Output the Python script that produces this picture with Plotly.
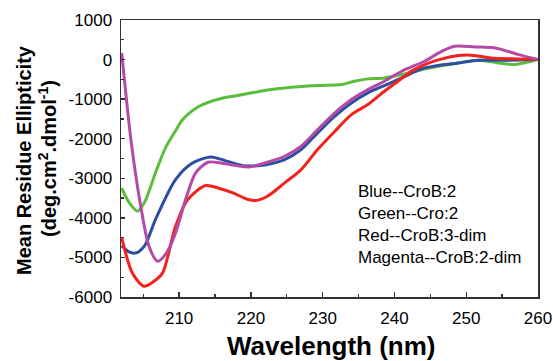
import plotly.graph_objects as go

# ---- data ----
green_x = [202.0, 203.0, 204.2, 205.2, 206.7, 208.1, 209.5, 210.5, 212.8, 216.1, 218.9, 222.1, 224.7,
           229.3, 232.6, 234.4, 236.3, 238.6, 241.0, 244.2, 248.9, 251.7, 254.5, 256.8, 260.0]
green_y = [-3250, -3600, -3830, -3600, -2860, -2230, -1800, -1516, -1180, -970, -885, -775, -716,
           -657, -632, -547, -488, -463, -379, -236, -84, -17, -84, -126, 0]

blue_x = [202.0, 203.0, 204.0, 205.2, 206.7, 209.5, 211.8, 214.4, 216.5, 218.9, 220.5, 222.3, 224.7,
          227.0, 229.3, 231.7, 234.0, 236.3, 238.6, 241.0, 244.2, 248.9, 251.7, 255.2, 260.0]
blue_y = [-4700, -4860, -4885, -4700, -4043, -3032, -2620, -2459, -2560, -2680, -2690, -2650, -2527,
          -2274, -1853, -1432, -1095, -842, -657, -463, -210, -84, -17, -17, 0]

magenta_x = [202.0, 203.3, 204.65, 205.8, 207.0, 208.2, 209.5, 210.9, 212.3, 214.0, 216.0, 218.0,
             219.8, 222.3, 224.7, 227.0, 229.3, 231.7, 234.0, 236.3, 238.6, 241.0, 244.2, 246.5,
             248.4, 251.2, 254.0, 257.3, 260.0]
magenta_y = [170, -2050, -3707, -4717, -5097, -4900, -4380, -3538, -2863, -2594, -2620, -2680,
             -2712, -2594, -2443, -2190, -1769, -1347, -1011, -758, -547, -295, -42, 200,
             337, 320, 295, 126, 0]

red_x = [202.0, 203.5, 205.1, 206.5, 207.7, 209.5, 211.2, 213.7, 215.5, 217.5, 219.5, 220.7, 222.3,
         224.7, 227.0, 229.3, 231.7, 234.0, 236.3, 238.6, 241.0, 242.5, 244.2, 246.6, 248.9, 250.7,
         253.5, 257.3, 260.0]
red_y = [-4506, -5400, -5729, -5600, -5390, -4212, -3538, -3184, -3250, -3369, -3530, -3563, -3454,
         -3117, -2780, -2274, -1811, -1390, -1137, -800, -480, -280, -126, 17, 101, 110,
         42, 17, 0]

y_ticks = [1000, 0, -1000, -2000, -3000, -4000, -5000, -6000]
y_tick_text = ["1000", "0", "-1000", "-2000", "-3000", "-4000", "-5000", "-6000"]
x_ticks = [210, 220, 230, 240, 250, 260]
x_tick_text = ["210", "220", "230", "240", "250", "260"]

legend_lines = ["Blue--CroB:2", "Green--Cro:2", "Red--CroB:3-dim", "Magenta--CroB:2-dim"]

FONT = "Liberation Sans, Arial, sans-serif"

fig = go.Figure()
for xs, ys, col in [(green_x, green_y, "#5bbd3c"),
                    (blue_x, blue_y, "#2c4ea3"),
                    (red_x, red_y, "#f2231c"),
                    (magenta_x, magenta_y, "#b54aa6")]:
    fig.add_trace(go.Scatter(x=xs, y=ys, mode="lines",
                             line=dict(color=col, width=3, shape="spline", smoothing=0.8),
                             showlegend=False, hoverinfo="skip"))

W, H = 553, 361
PL, PR, PT, PB = 121, 538, 20, 297   # plot-area edges in pixels
L, R, T, B = PL, W - PR, PT, H - PB
pw, ph = PR - PL, PB - PT


def px_x(px):
    return (px - PL) / pw


def px_y(py):
    return (PB - py) / ph


fig.update_layout(
    width=W, height=H,
    margin=dict(l=L, r=R, t=T, b=B, pad=0, autoexpand=False),
    paper_bgcolor="white", plot_bgcolor="white",
    font=dict(family=FONT, color="black", size=16),
    xaxis=dict(range=[201.9, 260], tickvals=x_ticks, ticktext=x_tick_text,
               ticks="inside", ticklen=5, tickwidth=1.3, tickcolor="#333",
               showline=True, linecolor="#333", linewidth=1.5, mirror=True,
               showgrid=False, zeroline=False, tickfont=dict(size=17),
               ticklabelstandoff=5, automargin=False,
               minor=dict(dtick=5, tick0=200, ticks="inside", ticklen=3, tickcolor="#333", tickwidth=1.3)),
    yaxis=dict(range=[-6000, 1000], tickvals=y_ticks, ticktext=y_tick_text,
               ticks="inside", ticklen=4, tickwidth=1.3, tickcolor="#333",
               showline=True, linecolor="#333", linewidth=1.5, mirror=True,
               showgrid=False, zeroline=False, tickfont=dict(size=17),
               ticklabelstandoff=4, automargin=False,
               minor=dict(dtick=500, tick0=0, ticks="inside", ticklen=3, tickcolor="#333", tickwidth=1.3)),
)

# x-axis title
fig.add_annotation(text="<b>Wavelength (nm)</b>", xref="paper", yref="paper",
                   x=px_x(331), y=px_y(346), xanchor="center", yanchor="middle",
                   showarrow=False, font=dict(size=26, family=FONT))
# y-axis title (two lines)
fig.add_annotation(text="<b>Mean Residue Ellipticity</b>", xref="paper", yref="paper",
                   x=px_x(24), y=px_y(160), xanchor="center", yanchor="middle",
                   textangle=-90, showarrow=False, font=dict(size=20, family=FONT))
fig.add_annotation(text="<b>(deg.cm<sup>2</sup>.dmol<sup>-1</sup>)</b>", xref="paper", yref="paper",
                   x=px_x(47), y=px_y(159), xanchor="center", yanchor="middle",
                   textangle=-90, showarrow=False, font=dict(size=20, family=FONT))

# in-plot legend text
for i, txt in enumerate(legend_lines):
    py = 192 + i * 21.8
    fig.add_annotation(text=txt, xref="paper", yref="paper",
                       x=px_x(356), y=px_y(py), xanchor="left", yanchor="middle",
                       showarrow=False, font=dict(size=17, family=FONT))

fig.write_html("out.html",
               config={"displayModeBar": False, "staticPlot": True},
               post_script="document.body.style.margin='0';document.body.style.overflow='hidden';")
